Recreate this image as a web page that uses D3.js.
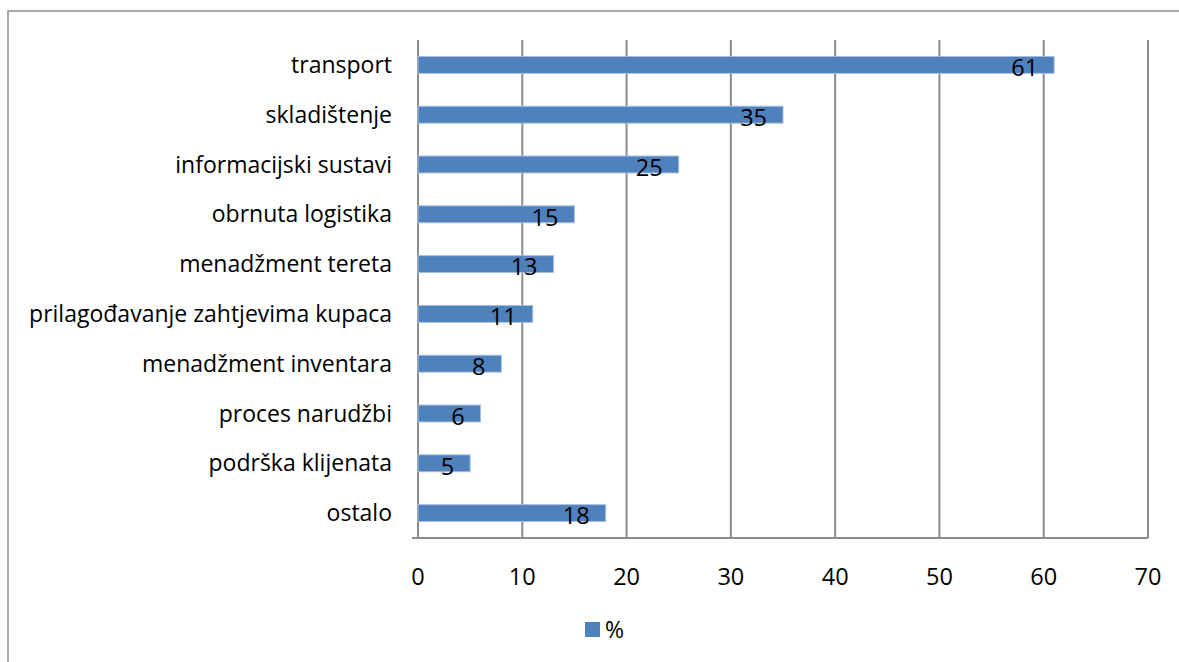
<!DOCTYPE html>
<html>
<head>
<meta charset="utf-8">
<script src="https://cdn.jsdelivr.net/npm/d3@7"></script>
<style>
  body { margin: 0; background: #fff; }
  .chart text { font-family: "Open Sans", sans-serif; fill: #000; }
  .grid line { stroke: #8c8c8c; stroke-width: 2; }
</style>
</head>
<body>
<div class="chart"></div>
<script>
const categories = ['transport', 'skladištenje', 'informacijski sustavi', 'obrnuta logistika',
  'menadžment tereta', 'prilagođavanje zahtjevima kupaca', 'menadžment inventara',
  'proces narudžbi', 'podrška klijenata', 'ostalo']
const values = [61, 35, 25, 15, 13, 11, 8, 6, 5, 18]
const xTicks = [0, 10, 20, 30, 40, 50, 60, 70]
const seriesName = '%'

const width = 1179, height = 662
const margin = {top: 40, right: 31, bottom: 124, left: 418}

const svg = d3.select('.chart').append('svg')
  .attr('width', width)
  .attr('height', height)

// outer frame
svg.append('rect')
  .attr('x', 8).attr('y', 11)
  .attr('width', 1200).attr('height', 700)
  .attr('fill', 'none')
  .attr('stroke', '#8c8c8c')
  .attr('stroke-width', 1.5)

const x = d3.scaleLinear().domain([0, 70]).range([margin.left, width - margin.right])
const y = d3.scaleBand().domain(categories).range([margin.top, height - margin.bottom]).paddingInner(0.66).paddingOuter(0.33)

// vertical gridlines
svg.append('g').attr('class', 'grid')
  .selectAll('line')
  .data(xTicks)
  .join('line')
  .attr('x1', d => x(d)).attr('x2', d => x(d))
  .attr('y1', margin.top).attr('y2', height - margin.bottom)

// axis line along bottom
svg.append('line')
  .attr('x1', x(0) - 6).attr('x2', x(70))
  .attr('y1', height - margin.bottom).attr('y2', height - margin.bottom)
  .attr('stroke', '#8c8c8c').attr('stroke-width', 2)

// x tick labels
svg.append('g')
  .selectAll('text')
  .data(xTicks)
  .join('text')
  .attr('x', d => x(d))
  .attr('y', height - margin.bottom + 39)
  .attr('dy', '0.35em')
  .attr('text-anchor', 'middle')
  .style('font-size', '23.5px')
  .text(d => d)

// category labels
svg.append('g')
  .selectAll('text')
  .data(categories)
  .join('text')
  .attr('x', margin.left - 26)
  .attr('y', d => y(d) + y.bandwidth() / 2)
  .attr('dy', '0.35em')
  .attr('text-anchor', 'end')
  .style('font-size', '23px')
  .text(d => d)

// bars
svg.append('g')
  .selectAll('rect')
  .data(values)
  .join('rect')
  .attr('x', x(0))
  .attr('y', (d, i) => y(categories[i]))
  .attr('width', d => x(d) - x(0))
  .attr('height', y.bandwidth())
  .attr('fill', '#4f81bd')
  .attr('stroke', '#a7bfde')
  .attr('stroke-width', 1)

// value labels (inside end)
svg.append('g')
  .selectAll('text')
  .data(values)
  .join('text')
  .attr('x', d => x(d) - 16)
  .attr('y', (d, i) => y(categories[i]) + y.bandwidth() / 2 + 3)
  .attr('dy', '0.35em')
  .attr('text-anchor', 'end')
  .style('font-size', '23.5px')
  .text(d => d)

// legend
const legend = svg.append('g').attr('transform', 'translate(585,622)')
legend.append('rect').attr('width', 15).attr('height', 15).attr('fill', '#4f81bd')
legend.append('text').attr('x', 20).attr('y', 8).attr('dy', '0.35em')
  .style('font-size', '23px').text(seriesName)
</script>
</body>
</html>
